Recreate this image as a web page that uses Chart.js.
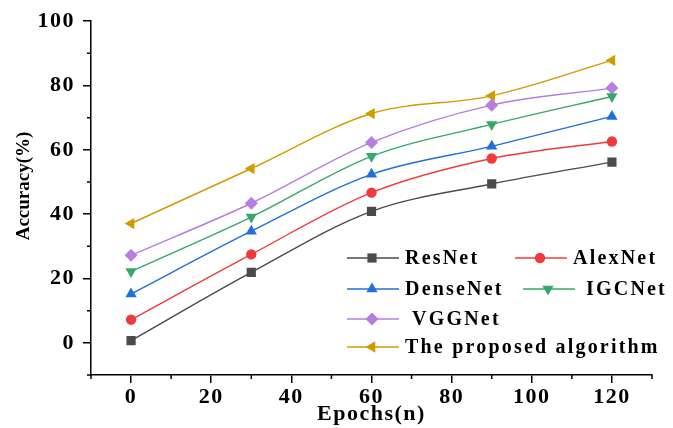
<!DOCTYPE html>
<html>
<head>
<meta charset="utf-8">
<script src="https://cdn.jsdelivr.net/npm/chart.js@4.4.1/dist/chart.umd.min.js"></script>
<style>
  html, body { margin: 0; padding: 0; background: #fff; }
</style>
</head>
<body>
<canvas id="accChart" width="673" height="428"></canvas>
<script>
// data
const epochs = [0, 30, 60, 90, 120];
const resnet = [0.7, 21.9, 40.9, 49.4, 56.2];
const alexnet = [7.2, 27.5, 46.7, 57.3, 62.6];
const densenet = [15.2, 34.7, 52.4, 61.1, 70.4];
const igcnet = [22.2, 39.1, 58.0, 67.9, 76.6];
const vggnet = [27.2, 43.4, 62.3, 73.9, 79.2];
const proposed = [37.1, 54.2, 71.3, 76.8, 87.8];
const seriesNames = ['ResNet', 'AlexNet', 'DenseNet', 'IGCNet', 'VGGNet', 'The proposed algorithm'];
const xTicks = [0, 20, 40, 60, 80, 100, 120];
const yTicks = [0, 20, 40, 60, 80, 100];
const yTitle = 'Accuracy(%)';

const FONT = '"Liberation Serif", "Times New Roman", serif';

function pts(arr) {
    return epochs.map((x, i) => ({ x: x, y: arr[i] }));
}

function series(label, arr, color, style, rot, r) {
    return {
        label: label,
        data: pts(arr),
        borderColor: color,
        backgroundColor: color,
        borderWidth: 1.4,
        pointStyle: style,
        pointRotation: rot,
        pointRadius: r,
        pointHoverRadius: r,
        pointBorderWidth: 0,
        cubicInterpolationMode: 'monotone'
    };
}

// the original's bold serif text is wide; spread the letters a little
const textSpacing = {
    id: 'textSpacing',
    beforeDraw(chart) { chart.ctx.letterSpacing = '1.5px'; },
    afterDraw(chart) { chart.ctx.letterSpacing = '0px'; }
};

// minor ticks halfway between the labelled ones
const minorTicks = {
    id: 'minorTicks',
    afterDraw(chart) {
        const ctx = chart.ctx;
        const xs = chart.scales.x, ys = chart.scales.y;
        ctx.save();
        ctx.strokeStyle = '#000';
        ctx.lineWidth = 1.5;
        ctx.beginPath();
        for (let v = -10; v <= 130; v += 20) {
            const px = xs.getPixelForValue(v);
            ctx.moveTo(px, xs.top);
            ctx.lineTo(px, xs.top + 4);
        }
        for (let v = -10; v <= 90; v += 20) {
            const py = ys.getPixelForValue(v);
            ctx.moveTo(ys.right, py);
            ctx.lineTo(ys.right - 4, py);
        }
        ctx.stroke();
        ctx.restore();
    }
};

// y title sits a bit above the middle of the axis in the original
const yTitleText = {
    id: 'yTitleText',
    afterDraw(chart) {
        const ctx = chart.ctx;
        ctx.save();
        ctx.letterSpacing = '0px';
        ctx.translate(24, 186);
        ctx.rotate(-Math.PI / 2);
        ctx.fillStyle = '#000';
        ctx.font = 'bold 19px ' + FONT;
        ctx.textAlign = 'center';
        ctx.textBaseline = 'middle';
        ctx.fillText(yTitle, 0, 0);
        ctx.restore();
    }
};

// legend sits inside the plot, two columns
const legendSlots = [
    { lx: 347, y: 258, tx: 405 },
    { lx: 515, y: 258, tx: 573 },
    { lx: 347, y: 289, tx: 405 },
    { lx: 523, y: 289, tx: 586 },
    { lx: 347, y: 319, tx: 412 },
    { lx: 347, y: 347, tx: 405 }
];

const innerLegend = {
    id: 'innerLegend',
    afterDraw(chart) {
        const ctx = chart.ctx;
        ctx.save();
        chart.data.datasets.forEach((ds, i) => {
            const s = legendSlots[i];
            ctx.strokeStyle = ds.borderColor;
            ctx.lineWidth = 1.4;
            ctx.beginPath();
            ctx.moveTo(s.lx, s.y);
            ctx.lineTo(s.lx + 52, s.y);
            ctx.stroke();
            ctx.fillStyle = ds.backgroundColor;
            Chart.helpers.drawPoint(ctx, {
                pointStyle: ds.pointStyle,
                rotation: ds.pointRotation,
                radius: ds.pointRadius,
                borderWidth: 0
            }, s.lx + 25, s.y);
            ctx.fillStyle = '#000';
            ctx.font = 'bold 20px ' + FONT;
            ctx.letterSpacing = '2.2px';
            ctx.textAlign = 'left';
            ctx.textBaseline = 'middle';
            ctx.fillText(ds.label, s.tx, s.y + 1);
        });
        ctx.restore();
    }
};

const ctx = document.getElementById('accChart').getContext('2d');
const accChart = new Chart(ctx, {
    type: 'line',
    data: {
        datasets: [
            series(seriesNames[0], resnet, '#4b4b4b', 'rect', 0, 6.5),
            series(seriesNames[1], alexnet, '#ef3b3b', 'circle', 0, 5.2),
            series(seriesNames[2], densenet, '#1f6fdc', 'triangle', 0, 6.5),
            series(seriesNames[3], igcnet, '#37a86a', 'triangle', 180, 6.5),
            series(seriesNames[4], vggnet, '#b57ee0', 'rectRot', 0, 6.5),
            series(seriesNames[5], proposed, '#d19b00', 'triangle', -90, 6.5)
        ]
    },
    options: {
        responsive: false,
        animation: false,
        layout: { padding: { top: 21, right: 21, left: 0, bottom: 0 } },
        plugins: {
            legend: { display: false },
            tooltip: { enabled: false }
        },
        scales: {
            x: {
                type: 'linear',
                min: -10,
                max: 130,
                afterFit(scale) { scale.height = 53; },
                afterBuildTicks(scale) { scale.ticks = xTicks.map(v => ({ value: v })); },
                border: { color: '#000', width: 1.5 },
                grid: { drawOnChartArea: false, drawTicks: true, tickLength: 8, color: '#000', lineWidth: 1.5 },
                ticks: { color: '#000', padding: 1, font: { family: FONT, size: 22, weight: 'bold' } },
                title: {
                    display: true,
                    text: 'Epochs(n)',
                    color: '#000',
                    padding: { top: -6, bottom: 0 },
                    font: { family: FONT, size: 22, weight: 'bold' }
                }
            },
            y: {
                min: -10,
                max: 100,
                afterFit(scale) { scale.width = 91; },
                afterBuildTicks(scale) { scale.ticks = yTicks.map(v => ({ value: v })); },
                border: { color: '#000', width: 1.5 },
                grid: { drawOnChartArea: false, drawTicks: true, tickLength: 8, color: '#000', lineWidth: 1.5 },
                ticks: { color: '#000', padding: 8, font: { family: FONT, size: 22, weight: 'bold' } }
            }
        }
    },
    plugins: [textSpacing, minorTicks, yTitleText, innerLegend]
});
</script>
</body>
</html>
